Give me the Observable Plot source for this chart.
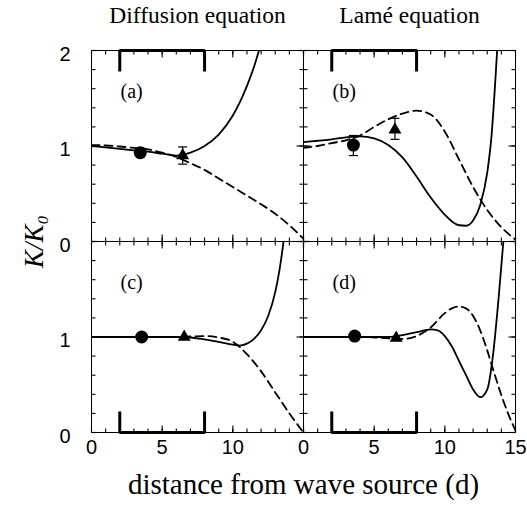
<!DOCTYPE html>
<html><head><meta charset="utf-8">
<script src="https://cdn.jsdelivr.net/npm/d3@7"></script>
<script src="https://cdn.jsdelivr.net/npm/@observablehq/plot@0.6"></script>
<style>body{margin:0;background:#fff}</style>
</head><body><div id="chart"></div>
<script>
// ---- categories ----
const columns = ["Diffusion equation", "Lamé equation"];
const rows = ["upper", "lower"];
const panelLabels = ["(a)", "(b)", "(c)", "(d)"];
const panelColumn = [0, 1, 0, 1];
const panelRow = [0, 0, 1, 1];

// ---- solid curves ----
const solidAx = [0,1,2,3,4,5,6,7,8,9,10,10.5,11,11.5,12,12.3];
const solidAy = [1.0,0.985,0.97,0.955,0.94,0.92,0.9,0.93,1.0,1.12,1.32,1.46,1.63,1.83,2.08,2.25];
const solidBx = [0,1,2,3,4,5,6,7,8,9,10,10.5,11,11.5,12,12.5,13,13.3,13.6,13.9];
const solidBy = [1.04,1.055,1.07,1.09,1.10,1.08,1.01,0.88,0.68,0.46,0.28,0.21,0.17,0.165,0.22,0.38,0.72,1.1,1.75,2.5];
const solidCx = [0,2,4,6,7,8,9,10,10.5,11,11.5,12,12.5,13,13.3,13.6,13.8];
const solidCy = [1,1,1,1,0.995,0.975,0.95,0.92,0.91,0.93,0.98,1.07,1.22,1.47,1.7,2.02,2.3];
const solidDx = [0,2,4,6,7,8,9,9.5,10,10.5,11,11.5,12,12.5,13,13.4,13.8,14.2,14.4];
const solidDy = [1,1,1,1,1.02,1.05,1.08,1.07,1.01,0.9,0.75,0.6,0.45,0.37,0.45,0.8,1.4,2.1,2.5];

// ---- dashed curves ----
const dashedAx = [0,1,2,3,4,5,6,7,8,9,10,11,12,13,14,15];
const dashedAy = [1.01,1.005,0.995,0.98,0.965,0.93,0.885,0.82,0.75,0.66,0.57,0.48,0.39,0.29,0.17,0.03];
const dashedBx = [0,1,2,3,4,5,6,7,8,9,10,11,12,13,14,15];
const dashedBy = [0.98,1.0,1.03,1.06,1.11,1.2,1.28,1.34,1.37,1.33,1.15,0.86,0.57,0.33,0.15,0.02];
const dashedCx = [0,2,4,6,7,8,9,10,11,12,13,14,15];
const dashedCy = [1,1,1,1,1.005,1.01,0.995,0.95,0.82,0.64,0.42,0.2,0.0];
const dashedDx = [0,2,4,5,6,7,8,9,10,10.5,11,11.5,12,12.5,13,13.5,14,14.5,15];
const dashedDy = [1,1,1,0.995,0.985,0.98,1.01,1.1,1.25,1.3,1.32,1.3,1.22,1.07,0.86,0.62,0.39,0.19,0.02];

// ---- measured points ----
const circleX = [3.45, 3.53, 3.55, 3.62];
const circleY = [0.93, 1.01, 1.0, 1.01];
const circleErrLow = [null, 0.90, null, null];
const circleErrHigh = [null, 1.11, null, null];
const triangleX = [6.45, 6.47, 6.56, 6.56];
const triangleY = [0.9, 1.17, 1.0, 0.99];
const triangleErrLow = [0.81, 1.07, null, null];
const triangleErrHigh = [0.99, 1.29, null, null];

// ---- source region brackets ----
const bracketX = [2, 2, 8, 8];
const bracketYUpper = [1.78, 2, 2, 1.78];
const bracketYLower = [0.22, 0, 0, 0.22];

// ---- ticks & tick labels ----
const xMinorTicks = [0,1,2,3,4,5,6,7,8,9,10,11,12,13,14,15];
const xMajorTicks = [0,5,10,15];
const yMinorTicks = [0,0.2,0.4,0.6,0.8,1,1.2,1.4,1.6,1.8,2];
const yMajorTicks = [0,1,2];
const xTickLabelsLeft = [0,5,10];
const xTickLabelsRight = [0,5,10,15];
const yTickLabelsUpper = [2,1,0];
const yTickLabelsLower = [1,0];

// ---- build tables ----
const solidXs = [solidAx, solidBx, solidCx, solidDx];
const solidYs = [solidAy, solidBy, solidCy, solidDy];
const dashedXs = [dashedAx, dashedBx, dashedCx, dashedDx];
const dashedYs = [dashedAy, dashedBy, dashedCy, dashedDy];
const facetOf = p => ({fx: columns[panelColumn[p]], fy: rows[panelRow[p]], panel: p});
function curveTable(xs, ys) {
  const out = [];
  xs.forEach((arr, p) => arr.forEach((x, i) => out.push({...facetOf(p), x, y: ys[p][i]})));
  return out;
}
const solidData = curveTable(solidXs, solidYs);
const dashedData = curveTable(dashedXs, dashedYs);
const circles = circleX.map((x, p) => ({...facetOf(p), x, y: circleY[p], lo: circleErrLow[p], hi: circleErrHigh[p]}));
const triangles = triangleX.map((x, p) => ({...facetOf(p), x, y: triangleY[p], lo: triangleErrLow[p], hi: triangleErrHigh[p]}));
const errs = [...circles, ...triangles].filter(d => d.lo != null);
const brackets = [];
columns.forEach((c, ci) => {
  bracketX.forEach((x, i) => brackets.push({fx: c, fy: rows[0], x, y: bracketYUpper[i], z: "u" + ci}));
  bracketX.forEach((x, i) => brackets.push({fx: c, fy: rows[1], x, y: bracketYLower[i], z: "l" + ci}));
});
const xLabels = [
  ...xTickLabelsLeft.map(x => ({fx: columns[0], fy: rows[1], x})),
  ...xTickLabelsRight.map(x => ({fx: columns[1], fy: rows[1], x}))
];
const yLabels = [
  ...yTickLabelsUpper.map(y => ({fx: columns[0], fy: rows[0], y})),
  ...yTickLabelsLower.map(y => ({fx: columns[0], fy: rows[1], y}))
];
const panels = panelLabels.map((t, p) => ({...facetOf(p), t}));

const xDomain = [0, 15], yDomain = [0, 2];

// tick positions repeated on each side of every panel
const tickTable = (vals, side) => panelLabels.flatMap((_, p) => vals.map(v => {
  const base = facetOf(p);
  if (side === "bottom") return {...base, x: v, y: yDomain[0]};
  if (side === "top") return {...base, x: v, y: yDomain[1]};
  if (side === "left") return {...base, x: xDomain[0], y: v};
  return {...base, x: xDomain[1], y: v};
}));

// custom symbols: a short line pointing into the panel from the given side
const lineSymbol = (dx, dy) => ({draw(ctx, size) {
  const l = Math.sqrt(size / Math.PI);
  ctx.moveTo(0, 0); ctx.lineTo(dx * l, dy * l);
}});
const tickSymbols = {bottom: lineSymbol(0, -1), top: lineSymbol(0, 1), left: lineSymbol(1, 0), right: lineSymbol(-1, 0)};
const capSymbol = {draw(ctx, size) { const w = Math.sqrt(size / Math.PI); ctx.moveTo(-w, 0); ctx.lineTo(w, 0); }};

const inwardTicks = (vals, side, len) => Plot.dot(tickTable(vals, side), {
  x: "x", y: "y", fx: "fx", fy: "fy", symbol: tickSymbols[side], r: len,
  fill: "none", stroke: "black", strokeWidth: 1.1
});

const serif = "'Liberation Serif', 'Times New Roman', serif";
const sans = "'Liberation Sans', Arial, sans-serif";

const chart = Plot.plot({
  width: 527, height: 505,
  marginTop: 49, marginLeft: 91, marginRight: 12, marginBottom: 73,
  style: {fontFamily: sans, background: "white", color: "black"},
  x: {domain: xDomain, axis: null},
  y: {domain: yDomain, axis: null},
  fx: {domain: columns, padding: 0},
  fy: {domain: rows, padding: 0},
  marks: [
    Plot.frame({stroke: "black", strokeWidth: 1}),
    inwardTicks(xMinorTicks, "bottom", 4),
    inwardTicks(xMajorTicks, "bottom", 7),
    inwardTicks(xMinorTicks, "top", 4),
    inwardTicks(xMajorTicks, "top", 7),
    inwardTicks(yMinorTicks, "left", 4),
    inwardTicks(yMajorTicks, "left", 7),
    inwardTicks(yMinorTicks, "right", 4),
    inwardTicks(yMajorTicks, "right", 7),
    Plot.line(brackets, {x: "x", y: "y", z: "z", fx: "fx", fy: "fy", stroke: "black", strokeWidth: 3, strokeLinejoin: "miter", strokeLinecap: "butt"}),
    Plot.line(dashedData, {x: "x", y: "y", z: "panel", fx: "fx", fy: "fy", curve: "monotone-x", stroke: "black", strokeWidth: 1.8, strokeDasharray: "8,5", clip: true}),
    Plot.line(solidData, {x: "x", y: "y", z: "panel", fx: "fx", fy: "fy", curve: "monotone-x", stroke: "black", strokeWidth: 1.8, clip: true}),
    Plot.ruleX(errs, {x: "x", y1: "lo", y2: "hi", fx: "fx", fy: "fy", stroke: "black", strokeWidth: 1.2}),
    Plot.dot(errs, {x: "x", y: "lo", fx: "fx", fy: "fy", symbol: capSymbol, r: 4.5, stroke: "black", strokeWidth: 1.2}),
    Plot.dot(errs, {x: "x", y: "hi", fx: "fx", fy: "fy", symbol: capSymbol, r: 4.5, stroke: "black", strokeWidth: 1.2}),
    Plot.dot(circles, {x: "x", y: "y", fx: "fx", fy: "fy", r: 6.5, fill: "black"}),
    Plot.dot(triangles, {x: "x", y: "y", fx: "fx", fy: "fy", symbol: "triangle", r: 4.8, fill: "black"}),
    Plot.text(panels, {fx: "fx", fy: "fy", text: "t", frameAnchor: "top-left", dx: 29, dy: 41, textAnchor: "start", lineAnchor: "middle", fontFamily: serif, fontSize: 20}),
    Plot.text(xLabels, {x: "x", fx: "fx", fy: "fy", text: d => String(d.x), frameAnchor: "bottom", lineAnchor: "top", dy: 7, fontSize: 20}),
    Plot.text(yLabels, {y: "y", fx: "fx", fy: "fy", text: d => String(d.y), frameAnchor: "left", textAnchor: "end", dx: -21, dy: 4, fontSize: 20}),
    Plot.axisFx({anchor: "top", label: null, tickSize: 0, tickPadding: 28, fontFamily: serif, fontSize: 23.5}),
    Plot.axisFx({anchor: "bottom", tickSize: 0, tickFormat: () => "", label: "distance from wave source (d)", labelAnchor: "center", labelOffset: 61, dx: -10, fontFamily: serif, fontSize: 29}),
    Plot.axisFy({anchor: "left", tickSize: 0, tickFormat: () => "", label: "K/K₀", labelAnchor: "center", labelOffset: 68, fontFamily: serif, fontStyle: "italic", fontSize: 27})
  ]
});
document.getElementById("chart").appendChild(chart);
</script></body></html>
